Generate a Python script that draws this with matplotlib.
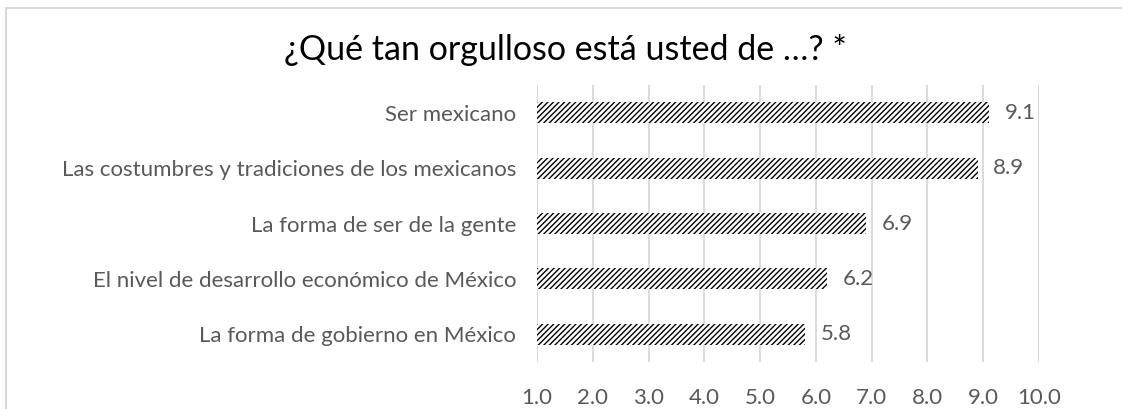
import matplotlib
matplotlib.use("Agg")
import matplotlib.pyplot as plt
from matplotlib.patches import Rectangle
import numpy as np

categories = [
    "Ser mexicano",
    "Las costumbres y tradiciones de los mexicanos",
    "La forma de ser de la gente",
    "El nivel de desarrollo económico de México",
    "La forma de gobierno en México",
]
values = [9.1, 8.9, 6.9, 6.2, 5.8]
xticks = [1.0, 2.0, 3.0, 4.0, 5.0, 6.0, 7.0, 8.0, 9.0, 10.0]
title = "¿Qué tan orgulloso está usted de …? *"

plt.rcParams['font.family'] = ['Lato', 'DejaVu Sans']
plt.rcParams['hatch.linewidth'] = 1.0

gray = "#595959"
fs = 16
fig = plt.figure(figsize=(11.22, 4.09), dpi=100)
fig.patch.set_facecolor("white")
# outer chart frame (extends beyond the image on right and bottom)
fig.patches.append(Rectangle((6 / 1122, -0.1), 1.2, 1 - 8 / 409 + 0.1,
                             transform=fig.transFigure, fill=False,
                             edgecolor="#d9d9d9", linewidth=1.5, zorder=0))

ax = fig.add_axes([537 / 1122, 1 - 362 / 409, (1039 - 537) / 1122, (362 - 85) / 409])
y = np.arange(len(categories))
ax.barh(y, values, height=0.38, color="white", edgecolor="black",
        hatch="//////", linewidth=0, zorder=2)
ax.set_xlim(1.0, 10.0)
ax.set_ylim(len(categories) - 0.5, -0.5)
ax.set_xticks(xticks)
ax.set_xticklabels([f"{t:.1f}" for t in xticks])
ax.set_yticks(y)
ax.set_yticklabels(categories)
ax.tick_params(axis="both", length=0, labelsize=fs, labelcolor=gray)
ax.tick_params(axis="x", pad=19)
ax.tick_params(axis="y", pad=15)
ax.grid(axis="x", color="#d9d9d9", linewidth=1.3, zorder=0)
ax.set_axisbelow(True)
for s in ax.spines.values():
    s.set_visible(False)

for yi, v in zip(y, values):
    ax.text(v + 0.28, yi, f"{v:.1f}", va="center", ha="left",
            fontsize=fs, color=gray)

fig.text(0.5 + 4 / 1122, 1 - 50 / 409, title, ha="center", va="center",
         fontsize=24.5, color="black")

fig.savefig("out.png", dpi=100, facecolor="white")
